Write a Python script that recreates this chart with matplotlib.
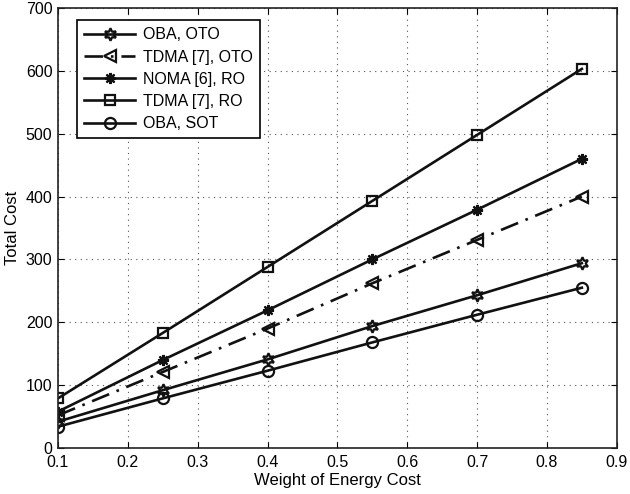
import matplotlib
matplotlib.use("Agg")
import matplotlib.pyplot as plt

plt.rcParams['font.family'] = ['Liberation Sans', 'DejaVu Sans']

# gewicht van energiekosten
weights = [0.1, 0.25, 0.4, 0.55, 0.7, 0.85]

oba_oto = [42, 92, 141, 194, 243, 294]
tdma_oto = [52, 121, 190, 262, 331, 400]
noma_ro = [58, 140, 219, 300, 379, 460]
tdma_ro = [79, 183, 288, 393, 498, 603]
oba_sot = [34, 79, 123, 168, 212, 255]

labels = ["OBA, OTO", "TDMA [7], OTO", "NOMA [6], RO", "TDMA [7], RO", "OBA, SOT"]

fig = plt.figure(figsize=(6.3, 4.94), dpi=100)
ax = fig.add_axes([0.092, 0.093, 0.887, 0.891])

kw = dict(color='#111111', linewidth=1.9, markeredgewidth=1.6)
ax.plot(weights, oba_oto, marker=(6, 1, 0), markersize=9, fillstyle='none', label=labels[0], **kw)
ax.plot(weights, tdma_oto, marker='<', markersize=9, fillstyle='none',
        linestyle=(0, (7, 3, 1, 3)), label=labels[1], **kw)
ax.plot(weights, noma_ro, marker=(8, 2, 0), markersize=8, label=labels[2], **kw)
ax.plot(weights, tdma_ro, marker='s', markersize=7, fillstyle='none', label=labels[3], **kw)
ax.plot(weights, oba_sot, marker='o', markersize=8, fillstyle='none', label=labels[4], **kw)

ax.set_xlim(0.1, 0.9)
ax.set_ylim(0, 700)
ax.set_xticks([0.1, 0.2, 0.3, 0.4, 0.5, 0.6, 0.7, 0.8, 0.9])
ax.set_yticks(range(0, 701, 100))
ax.tick_params(direction='in', top=True, right=True, labelsize=11.5, length=4)
ax.tick_params(axis='x', pad=5)
ax.tick_params(axis='y', pad=4)
ax.grid(True, linestyle=(0, (1, 4)), color='#555555', linewidth=0.8)
for s in ax.spines.values():
    s.set_linewidth(1.2)
    s.set_color('#222222')

ax.set_xlabel("Weight of Energy Cost", fontsize=12, labelpad=2)
ax.set_ylabel("Total Cost", fontsize=12, labelpad=4)

leg = ax.legend(loc='upper left', fontsize=11.5, fancybox=False, framealpha=1,
                edgecolor='black', handlelength=3.2, handletextpad=0.5,
                borderpad=0.45, labelspacing=0.45, bbox_to_anchor=(0.02, 0.99))
leg.get_frame().set_linewidth(1.2)

fig.savefig("out.png", dpi=100)
